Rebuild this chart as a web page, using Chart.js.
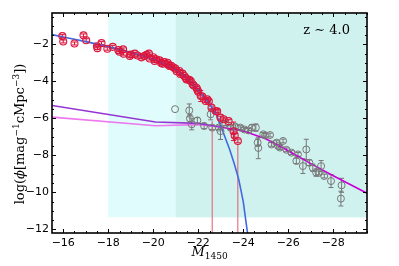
<!DOCTYPE html>
<html>
<head>
<meta charset="utf-8">
<script src="https://cdn.jsdelivr.net/npm/chart.js@4.4.0/dist/chart.umd.min.js"></script>
<style>
  html, body { margin: 0; padding: 0; background: #fff; }
</style>
</head>
<body>
<canvas id="myChart" width="399" height="266"></canvas>
<script>
// Tick labels
const xTicks = [-16, -18, -20, -22, -24, -26, -28];
const yTicks = [-2, -4, -6, -8, -10, -12];

// Galaxies (red circles)
const galM = [-15.96, -16.0, -16.5, -16.9, -17.02, -17.5, -17.52, -17.7, -17.96, -18.2,
  -18.45, -18.5, -18.66, -18.68, -18.96, -19.0, -19.18, -19.3, -19.47, -19.6,
  -19.7, -19.81, -19.84, -20.0, -20.06, -20.13, -20.28, -20.35, -20.42, -20.5,
  -20.64, -20.66, -20.72, -20.8, -20.9, -20.98, -21.04, -21.16, -21.2, -21.3,
  -21.38, -21.45, -21.48, -21.6, -21.67, -21.75, -21.8, -21.92, -21.96, -22.0,
  -22.11, -22.18, -22.33, -22.4, -22.47, -22.59, -22.77, -22.84, -22.99, -23.13,
  -23.35, -23.57, -23.62, -23.76];
const galLogPhi = [-1.55, -1.84, -1.95, -1.51, -1.77, -2.1, -2.2, -1.93, -2.23, -2.13,
  -2.31, -2.4, -2.27, -2.5, -2.62, -2.55, -2.5, -2.6, -2.7, -2.63,
  -2.56, -2.5, -2.76, -2.69, -2.9, -2.81, -2.86, -3.0, -3.04, -2.95,
  -2.99, -3.1, -3.17, -3.15, -3.25, -3.3, -3.45, -3.44, -3.6, -3.58,
  -3.71, -3.82, -3.9, -3.92, -3.98, -4.15, -4.22, -4.34, -4.45, -4.56,
  -4.79, -4.82, -5.06, -4.97, -5.08, -5.42, -5.6, -5.62, -5.96, -6.05,
  -6.15, -6.7, -6.92, -7.22];
const galErr = [0.08, 0.08, 0.08, 0.08, 0.08, 0.08, 0.08, 0.08, 0.08, 0.08,
  0.08, 0.08, 0.08, 0.08, 0.08, 0.08, 0.08, 0.08, 0.08, 0.08,
  0.08, 0.08, 0.08, 0.08, 0.08, 0.08, 0.08, 0.08, 0.08, 0.08,
  0.08, 0.08, 0.08, 0.08, 0.08, 0.08, 0.08, 0.08, 0.08, 0.08,
  0.08, 0.08, 0.08, 0.08, 0.08, 0.08, 0.08, 0.08, 0.08, 0.08,
  0.3, 0.08, 0.08, 0.08, 0.08, 0.08, 0.08, 0.08, 0.08, 0.08,
  0.08, 0.5, 0.1, 0.1];

// Galaxy points whose lower error reaches the bottom of the plot
const limitM = [-22.62, -23.76];
const limitTop = [-6.15, -7.4];

// Quasars / AGN (grey circles)
const agnM = [-20.97, -21.6, -21.63, -21.71, -21.96, -22.26, -22.55, -22.62, -22.91, -22.99,
  -23.2, -23.43, -23.65, -23.87, -24.05, -24.23, -24.38, -24.56, -24.64, -24.67,
  -24.89, -24.97, -25.19, -25.26, -25.48, -25.55, -25.63, -25.77, -25.92, -26.14,
  -26.36, -26.43, -26.65, -26.8, -26.94, -27.09, -27.24, -27.35, -27.46, -27.6,
  -27.9, -28.37, -28.34];
const agnLogPhi = [-5.5, -5.57, -6.0, -6.32, -6.11, -6.41, -5.78, -6.5, -6.5, -6.69,
  -6.29, -6.5, -6.45, -6.5, -6.6, -6.65, -6.5, -6.5, -7.31, -7.6,
  -6.86, -6.92, -6.9, -7.41, -7.31, -7.5, -7.58, -7.22, -7.7, -7.85,
  -8.3, -7.95, -8.58, -7.68, -8.4, -8.67, -8.93, -8.95, -8.58, -9.12,
  -9.39, -9.62, -10.34];
const agnErr = [0, 0.35, 0.2, 0.3, 0.15, 0.15, 0.3, 0.1, 0.1, 0.45,
  0.1, 0.1, 0.1, 0.1, 0.1, 0.1, 0.15, 0.2, 0.2, 0.58,
  0.1, 0.1, 0.1, 0.1, 0.1, 0.1, 0.1, 0.1, 0.1, 0.1,
  0.15, 0.1, 0.4, 0.55, 0.15, 0.2, 0.2, 0.1, 0.3, 0.1,
  0.35, 0.38, 0.4];

// Model curves
const galFitM = [-15.5, -16, -17, -18, -19, -20, -20.5, -21, -21.5, -22, -22.5, -22.8, -23, -23.2, -23.4, -23.6, -23.8, -24, -24.2];
const galFitLogPhi = [-1.47, -1.6, -1.85, -2.12, -2.42, -2.8, -3.05, -3.38, -3.82, -4.45, -5.2, -5.8, -6.4, -7.05, -7.7, -8.45, -9.3, -10.5, -12.3];
const purpleM = [-15.5, -20.1, -22, -22.9];
const purpleLogPhi = [-5.3, -6.2, -6.27, -6.45];
const violetM = [-15.5, -20.1, -22, -22.9];
const violetLogPhi = [-5.93, -6.4, -6.34, -6.45];
const brightM = [-22.9, -24, -25, -26, -27, -28, -29.5];
const brightLogPhi = [-6.45, -6.68, -7.1, -7.75, -8.45, -9.1, -10.05];

// Shaded ranges
const bandStarts = [-18, -21];
const bandColors = ['rgb(224,252,252)', 'rgb(208,242,238)'];
const bandBottom = -11.35;

const pts = (xs, ys) => xs.map((v, i) => ({x: v, y: ys[i]}));

function drawParts(ctx, parts, x, y, align) {
  let w = 0;
  parts.forEach(p => { ctx.font = p.font; w += ctx.measureText(p.t).width; });
  let cx = align === 'center' ? x - w / 2 : (align === 'right' ? x - w : x);
  parts.forEach(p => {
    ctx.font = p.font;
    ctx.fillText(p.t, cx, y + (p.dy || 0));
    cx += ctx.measureText(p.t).width;
  });
}

const decor = {
  id: 'decor',
  beforeDatasetsDraw(chart) {
    const {ctx, chartArea: a, scales: {x, y}} = chart;
    ctx.save();
    const yb = y.getPixelForValue(bandBottom);
    bandStarts.forEach((s, i) => {
      const x0 = x.getPixelForValue(s);
      ctx.fillStyle = bandColors[i];
      ctx.fillRect(x0, a.top, a.right - x0, yb - a.top);
    });

    ctx.beginPath();
    ctx.rect(a.left, a.top, a.right - a.left, a.bottom - a.top);
    ctx.clip();

    // grey error bars
    ctx.strokeStyle = '#777';
    ctx.lineWidth = 1;
    agnM.forEach((m, i) => {
      if (!agnErr[i]) return;
      const px = x.getPixelForValue(m);
      const p1 = y.getPixelForValue(agnLogPhi[i] + agnErr[i]);
      const p2 = y.getPixelForValue(agnLogPhi[i] - agnErr[i]);
      ctx.beginPath();
      ctx.moveTo(px, p1); ctx.lineTo(px, p2);
      ctx.moveTo(px - 2.5, p1); ctx.lineTo(px + 2.5, p1);
      ctx.moveTo(px - 2.5, p2); ctx.lineTo(px + 2.5, p2);
      ctx.stroke();
    });

    // red error bars
    ctx.strokeStyle = '#dc143c';
    galM.forEach((m, i) => {
      const px = x.getPixelForValue(m);
      const p1 = y.getPixelForValue(galLogPhi[i] + galErr[i]);
      const p2 = y.getPixelForValue(galLogPhi[i] - galErr[i]);
      ctx.beginPath();
      ctx.moveTo(px, p1); ctx.lineTo(px, p2);
      ctx.moveTo(px - 2.5, p1); ctx.lineTo(px + 2.5, p1);
      ctx.moveTo(px - 2.5, p2); ctx.lineTo(px + 2.5, p2);
      ctx.stroke();
    });

    // lower limits running to the axis
    ctx.strokeStyle = 'rgb(222,90,110)';
    limitM.forEach((m, i) => {
      const px = x.getPixelForValue(m);
      ctx.beginPath();
      ctx.moveTo(px, y.getPixelForValue(limitTop[i]));
      ctx.lineTo(px, a.bottom);
      ctx.stroke();
    });
    ctx.restore();
  },
  afterDraw(chart) {
    const {ctx, chartArea: a, scales: {x, y}} = chart;
    ctx.save();
    ctx.strokeStyle = '#000';
    ctx.lineWidth = 1;
    // inward ticks, major and minor, on all four sides
    ctx.beginPath();
    for (let v = -16; v >= -29.5; v -= 0.5) {
      const px = Math.round(x.getPixelForValue(v)) + 0.5;
      const len = (v % 2 === 0) ? 4 : 2;
      ctx.moveTo(px, a.bottom); ctx.lineTo(px, a.bottom - len);
      ctx.moveTo(px, a.top); ctx.lineTo(px, a.top + len);
    }
    for (let v = -12; v <= -0.5; v += 0.5) {
      const py = Math.round(y.getPixelForValue(v)) + 0.5;
      const len = (v % 2 === 0) ? 4 : 2;
      ctx.moveTo(a.left, py); ctx.lineTo(a.left + len, py);
      ctx.moveTo(a.right, py); ctx.lineTo(a.right - len, py);
    }
    ctx.stroke();
    ctx.lineWidth = 1.6;
    ctx.strokeRect(a.left, a.top, a.right - a.left, a.bottom - a.top);

    ctx.fillStyle = '#000';
    ctx.textBaseline = 'alphabetic';
    // redshift label
    drawParts(ctx, [
      {t: 'z', font: '13px "DejaVu Serif"'},
      {t: ' ∼ ', font: '13px "DejaVu Serif"'},
      {t: '4.0', font: '13px "DejaVu Serif"'}
    ], a.right - 17, a.top + 21, 'right');

    // x title
    drawParts(ctx, [
      {t: 'M', font: 'italic 13px "DejaVu Serif"'},
      {t: '1450', font: '9px "DejaVu Serif"', dy: 3}
    ], (a.left + a.right) / 2, 256, 'center');

    // y title, rotated
    ctx.translate(24, 134);
    ctx.rotate(-Math.PI / 2);
    drawParts(ctx, [
      {t: 'log(', font: '13px "DejaVu Serif"'},
      {t: 'ϕ', font: 'italic 13px "DejaVu Serif"'},
      {t: '[mag', font: '13px "DejaVu Serif"'},
      {t: '−1', font: '9px "DejaVu Serif"', dy: -5},
      {t: 'cMpc', font: '13px "DejaVu Serif"'},
      {t: '−3', font: '9px "DejaVu Serif"', dy: -5},
      {t: '])', font: '13px "DejaVu Serif"'}
    ], 0, 0, 'center');
    ctx.restore();
  }
};

const ctx = document.getElementById('myChart').getContext('2d');

new Chart(ctx, {
  type: 'scatter',
  data: {
    datasets: [
      {
        data: pts(galFitM, galFitLogPhi), showLine: true, pointRadius: 0,
        borderColor: 'rgb(65,105,225)', borderWidth: 1.6, order: 3
      },
      {
        data: pts(purpleM, purpleLogPhi), showLine: true, pointRadius: 0,
        borderColor: 'rgb(148,52,210)', borderWidth: 1.6, order: 3
      },
      {
        data: pts(violetM, violetLogPhi), showLine: true, pointRadius: 0,
        borderColor: 'rgb(238,120,238)', borderWidth: 1.6, order: 3
      },
      {
        data: pts(brightM, brightLogPhi), showLine: true, pointRadius: 0,
        borderColor: 'rgb(200,0,215)', borderWidth: 1.6, order: 3
      },
      {
        data: pts(agnM, agnLogPhi), pointRadius: 3.5, pointBorderWidth: 1,
        pointBorderColor: '#777', pointBackgroundColor: 'rgba(0,0,0,0)', order: 2
      },
      {
        data: pts(galM, galLogPhi), pointRadius: 3.5, pointBorderWidth: 1.1,
        pointBorderColor: '#dc143c', pointBackgroundColor: 'rgba(220,20,60,0.08)', order: 1
      }
    ]
  },
  options: {
    responsive: false,
    animation: false,
    events: [],
    layout: { padding: { top: 13, right: 32, left: 0, bottom: 0 } },
    plugins: { legend: { display: false }, tooltip: { enabled: false } },
    scales: {
      x: {
        type: 'linear', reverse: true, min: -29.5, max: -15.5,
        grid: { display: false, drawTicks: false },
        border: { display: false },
        afterBuildTicks: s => { s.ticks = xTicks.map(v => ({value: v})); },
        afterFit: s => { s.height = 33; },
        ticks: {
          padding: 4, color: '#000', font: { family: 'DejaVu Sans', size: 11 },
          callback: v => String(v).replace('-', '\u2212')
        }
      },
      y: {
        type: 'linear', min: -12.2, max: -0.3,
        grid: { display: false, drawTicks: false },
        border: { display: false },
        afterBuildTicks: s => { s.ticks = yTicks.map(v => ({value: v})); },
        afterFit: s => { s.width = 52; },
        ticks: {
          padding: 3, color: '#000', font: { family: 'DejaVu Sans', size: 11 },
          callback: v => String(v).replace('-', '\u2212')
        }
      }
    }
  },
  plugins: [decor]
});
</script>
</body>
</html>
